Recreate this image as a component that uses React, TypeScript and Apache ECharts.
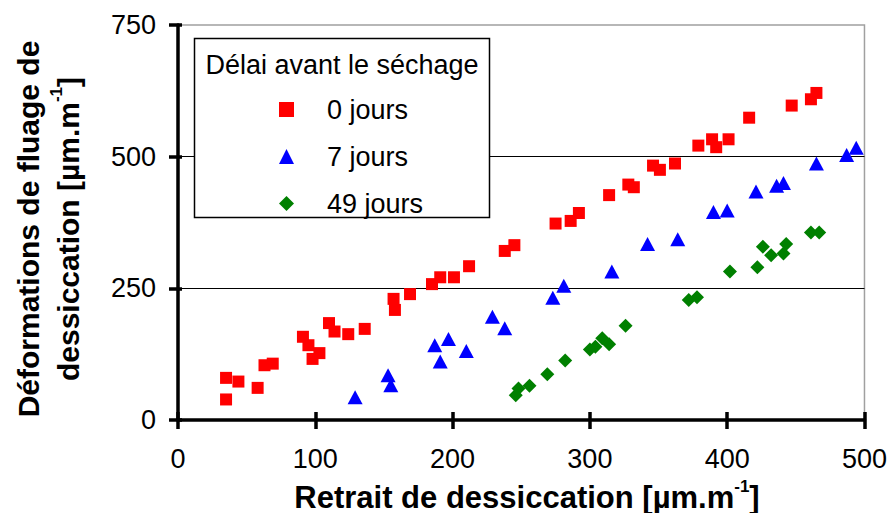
import React, { useEffect, useRef } from "react";
import * as echarts from "echarts";

const seriesNames = ["0 jours", "7 jours", "49 jours"];
const legendTitle = "Délai avant le séchage";

const red0X = [35, 35, 44, 58, 63, 69, 91, 95, 98, 103, 110, 114, 124, 136, 157, 158, 169, 185, 191, 201, 212, 238, 245, 275, 286, 292, 314, 328, 332, 346, 351, 362, 379, 389, 392, 401, 416, 447, 461, 465];
const red0Y = [80, 39, 73, 61, 104, 107, 158, 142, 116, 127, 184, 168, 163, 173, 230, 209, 239, 258, 271, 271, 292, 321, 332, 373, 378, 393, 427, 447, 442, 483, 475, 487, 521, 533, 518, 533, 574, 597, 609, 621];

const blue7X = [129, 153, 155, 187, 191, 197, 210, 229, 238, 273, 281, 316, 342, 364, 390, 400, 421, 436, 441, 465, 487, 494];
const blue7Y = [43, 85, 66, 142, 111, 154, 131, 196, 174, 232, 255, 282, 334, 343, 395, 398, 434, 445, 450, 487, 503, 517];

const green49X = [246, 248, 256, 269, 282, 300, 304, 309, 314, 326, 372, 378, 402, 422, 426, 432, 441, 443, 461, 467];
const green49Y = [47, 60, 65, 87, 113, 134, 139, 155, 144, 179, 228, 233, 282, 290, 329, 313, 316, 334, 356, 356];

const xTicks = { min: 0, max: 500, interval: 100 };
const yTicks = { min: 0, max: 750, interval: 250 };

const xTitle = "Retrait de dessiccation [µm.m";
const yTitle1 = "Déformations de fluage de";
const yTitle2 = "dessiccation [µm.m";

const FONT = "Liberation Sans, Arial, sans-serif";

function pairs(xs: number[], ys: number[]) {
  return xs.map((x, i) => [x, ys[i]]);
}

export default function App() {
  const ref = useRef<HTMLDivElement>(null);
  useEffect(() => {
    if (!ref.current) return;
    const chart = echarts.init(ref.current, null, { renderer: "svg" });
    const axisLine = { show: true, lineStyle: { color: "#000", width: 3.5 } };
    const baseX = {
      type: "value" as const,
      min: xTicks.min,
      max: xTicks.max,
      interval: xTicks.interval,
      position: "bottom" as const,
      splitLine: { show: false },
    };
    const baseY = {
      type: "value" as const,
      min: yTicks.min,
      max: yTicks.max,
      interval: yTicks.interval,
      position: "left" as const,
    };
    const xRich = {
      b: { fontFamily: FONT, fontWeight: "bold", fontSize: 31, lineHeight: 38, color: "#000" },
      s: { fontFamily: FONT, fontWeight: "bold", fontSize: 17, lineHeight: 22, verticalAlign: "top", color: "#000" },
    };
    const yRich = {
      b: { fontFamily: FONT, fontWeight: "bold", fontSize: 30, lineHeight: 40, color: "#000" },
      s: { fontFamily: FONT, fontWeight: "bold", fontSize: 17, lineHeight: 24, verticalAlign: "top", color: "#000" },
    };
    chart.setOption({
      animation: false,
      backgroundColor: "#fff",
      grid: {
        left: 178,
        right: 23,
        top: 25,
        bottom: 93,
        show: true,
        borderColor: "#a0a0a0",
        borderWidth: 1.5,
        backgroundColor: "transparent",
      },
      xAxis: [
        {
          ...baseX,
          axisLine,
          axisTick: { show: true, inside: false, length: 9, lineStyle: { color: "#000", width: 3.5 } },
          axisLabel: { show: true, margin: 25, fontSize: 27, fontFamily: FONT, color: "#000" },
        },
        {
          ...baseX,
          axisLine: { show: false },
          axisTick: { show: true, inside: true, length: 8, lineStyle: { color: "#000", width: 3.5 } },
          axisLabel: { show: false },
        },
      ],
      yAxis: [
        {
          ...baseY,
          axisLine,
          axisTick: { show: true, inside: false, length: 9, lineStyle: { color: "#000", width: 3.5 } },
          axisLabel: { show: true, margin: 22, fontSize: 27, fontFamily: FONT, color: "#000" },
          splitLine: { show: true, showMinLine: false, showMaxLine: false, lineStyle: { color: "#000", width: 1.2 } },
        },
        {
          ...baseY,
          axisLine: { show: false },
          axisTick: { show: true, inside: true, length: 4, lineStyle: { color: "#000", width: 3.5 } },
          axisLabel: { show: false },
          splitLine: { show: false },
        },
      ],
      legend: {
        show: true,
        orient: "vertical",
        left: 279,
        top: 96,
        padding: 0,
        itemWidth: 15,
        itemHeight: 15,
        itemGap: 20,
        selectedMode: false,
        z: 10,
        textStyle: { fontFamily: FONT, fontSize: 27, color: "#000", lineHeight: 24, padding: [0, 0, 0, 28] },
        data: seriesNames,
      },
      graphic: [
        {
          type: "rect",
          z: 5,
          shape: { x: 194.5, y: 38.5, width: 295, height: 179 },
          style: { fill: "#fff", stroke: "#000", lineWidth: 1.5 },
        },
        {
          type: "text",
          z: 6,
          x: 342,
          y: 65,
          style: { text: legendTitle, font: `27px ${FONT}`, fill: "#000", align: "center", verticalAlign: "middle" },
        },
        {
          type: "text",
          z: 6,
          x: 527,
          y: 497,
          style: {
            text: `{b|${xTitle}}{s|-1}{b|]}`,
            rich: xRich,
            align: "center",
            verticalAlign: "middle",
          },
        },
        {
          type: "text",
          z: 6,
          x: 48,
          y: 229,
          rotation: Math.PI / 2,
          style: {
            text: `{b|${yTitle1}}\n{b|${yTitle2}}{s|-1}{b|]}`,
            rich: yRich,
            align: "center",
            verticalAlign: "middle",
          },
        },
      ],
      series: [
        {
          name: seriesNames[0],
          type: "scatter",
          symbol: "rect",
          symbolSize: 12,
          itemStyle: { color: "#ff0000", opacity: 1 },
          data: pairs(red0X, red0Y),
          z: 3,
        },
        {
          name: seriesNames[1],
          type: "scatter",
          symbol: "triangle",
          symbolSize: [15, 14],
          itemStyle: { color: "#0000ff", opacity: 1 },
          data: pairs(blue7X, blue7Y),
          z: 3,
        },
        {
          name: seriesNames[2],
          type: "scatter",
          symbol: "diamond",
          symbolSize: 14,
          itemStyle: { color: "#008000", opacity: 1 },
          data: pairs(green49X, green49Y),
          z: 3,
        },
      ],
    });
    return () => chart.dispose();
  }, []);
  return (
    <div
      ref={ref}
      style={{ position: "fixed", left: 0, top: 0, width: 890, height: 513, background: "#fff" }}
    />
  );
}
